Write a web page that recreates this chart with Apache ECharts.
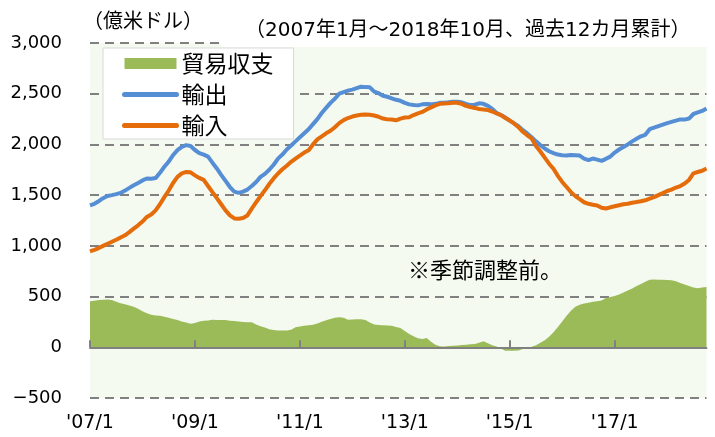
<!DOCTYPE html>
<html>
<head>
<meta charset="utf-8">
<script src="https://cdn.jsdelivr.net/npm/echarts@6/dist/echarts.min.js"></script>
<style>
html,body{margin:0;padding:0;background:#fff;}
#main{width:715px;height:437px;}
</style>
</head>
<body>
<div id="main"></div>
<script>
// Month categories: 2007/1 .. 2018/10
const startYear = 2007, startMonth = 1, monthCount = 142;
const categories = [];
for (let i = 0; i < monthCount; i++) {
  const m = (startMonth - 1 + i) % 12 + 1;
  const y = startYear + Math.floor((startMonth - 1 + i) / 12);
  categories.push("'" + String(y % 100).padStart(2, '0') + '/' + m);
}

const yTicks = [-500, 0, 500, 1000, 1500, 2000, 2500, 3000];

// 輸出 (exports), 12-month rolling sum, 100M USD
const exportsData = [
1400,1415,1440,1470,1492,1500,1510,1522,1545,1572,1598,1620,
1645,1664,1662,1668,1720,1780,1830,1895,1943,1975,1993,1985,
1945,1915,1900,1880,1820,1763,1700,1640,1580,1535,1522,1535,
1555,1590,1630,1680,1710,1750,1800,1860,1900,1950,1990,2030,
2070,2110,2150,2200,2250,2310,2360,2410,2450,2500,2515,2530,
2540,2555,2569,2565,2563,2520,2505,2480,2470,2455,2440,2430,
2410,2395,2388,2385,2395,2398,2395,2400,2410,2411,2415,2420,
2421,2415,2400,2388,2392,2405,2400,2380,2350,2310,2289,2265,
2235,2207,2180,2140,2108,2070,2030,1993,1960,1933,1915,1900,
1894,1890,1895,1894,1890,1860,1845,1861,1850,1838,1858,1880,
1920,1950,1975,2000,2030,2055,2080,2095,2150,2165,2180,2195,
2210,2223,2235,2247,2245,2255,2300,2315,2330,2355
];

// 輸入 (imports)
const importsData = [
945,960,978,1000,1021,1040,1060,1082,1104,1135,1170,1202,
1240,1285,1310,1350,1410,1480,1545,1620,1680,1715,1729,1725,
1695,1670,1650,1590,1530,1470,1410,1350,1300,1270,1268,1275,
1300,1367,1430,1490,1548,1610,1665,1713,1755,1790,1828,1860,
1890,1920,1943,2000,2050,2080,2110,2135,2170,2210,2240,2260,
2275,2285,2292,2296,2292,2285,2273,2255,2247,2245,2238,2255,
2266,2268,2290,2306,2320,2345,2365,2385,2400,2404,2405,2410,
2411,2400,2380,2368,2360,2350,2345,2338,2325,2305,2289,2260,
2235,2207,2170,2125,2090,2060,1985,1930,1870,1810,1760,1690,
1630,1580,1530,1490,1460,1430,1415,1405,1398,1375,1368,1380,
1390,1400,1410,1415,1425,1432,1440,1449,1465,1480,1500,1520,
1541,1555,1575,1590,1614,1650,1715,1728,1740,1763
];

// 貿易収支 (trade balance)
const balanceData = [
455,460,465,468,472,465,450,435,425,412,400,380,
356,335,320,313,310,300,290,280,268,255,245,232,
240,255,262,265,272,268,270,270,262,258,254,250,
248,246,225,208,195,178,170,166,165,166,172,198,
205,212,218,222,235,252,266,278,290,297,290,272,
275,277,276,270,245,225,220,218,215,212,200,190,
160,132,110,90,82,92,55,26,10,7,12,16,
18,22,26,30,33,45,59,40,20,7,-15,-33,
-35,-33,-32,-18,-8,5,20,45,70,105,148,200,
255,310,360,400,420,432,438,448,455,462,486,495,
505,520,540,560,580,605,625,645,665,668,666,665,
663,660,650,635,620,605,590,583,590,594
];

const FONT = '"DejaVu Sans", "Noto Sans CJK JP", sans-serif';
const CJK = '"Noto Sans CJK JP", sans-serif';
const C_BAL = '#9BBB59', C_EXP = '#558ED5', C_IMP = '#E46C0A';

const chart = echarts.init(document.getElementById('main'), null, {renderer: 'canvas'});
chart.setOption({
  animation: false,
  backgroundColor: '#ffffff',
  textStyle: {fontFamily: FONT},
  title: [
    {text: '（億米ドル）', left: 78, top: 5,
     textStyle: {fontSize: 20, fontWeight: 'normal', color: '#000', fontFamily: CJK}},
    {text: '（2007年1月～2018年10月、過去12カ月累計）', left: 240, top: 16,
     textStyle: {fontSize: 20, fontWeight: 'normal', color: '#000', fontFamily: FONT}}
  ],
  grid: {left: 90, right: 8.5, top: 43, bottom: 39, show: true,
         outerBoundsMode: 'none', containLabel: false,
         backgroundColor: '#F5FAF0', borderWidth: 0},
  legend: {
    orient: 'vertical', left: 103, top: 48,
    backgroundColor: '#ffffff', borderColor: '#D9D9D9', borderWidth: 1,
    padding: [4, 20, 2, 19],
    itemWidth: 52, itemHeight: 11, itemGap: 8,
    textStyle: {fontSize: 23, color: '#000', fontFamily: CJK, lineHeight: 22},
    data: [
      {name: '貿易収支', icon: 'rect', itemStyle: {color: C_BAL}},
      {name: '輸出', lineStyle: {width: 5, color: C_EXP, cap: 'round'}, itemStyle: {opacity: 0}},
      {name: '輸入', lineStyle: {width: 5, color: C_IMP, cap: 'round'}, itemStyle: {opacity: 0}}
    ]
  },
  xAxis: [
    { // tick labels along the bottom of the plot
      type: 'category', data: categories, boundaryGap: false, position: 'bottom',
      axisLine: {show: false, onZero: false}, axisTick: {show: false},
      axisLabel: {interval: 23, margin: 16, fontSize: 19, color: '#000', fontFamily: FONT},
      splitLine: {show: false}
    },
    { // zero line with small upward ticks, drawn over the area
      type: 'category', data: categories, boundaryGap: false, position: 'top', z: 5,
      axisLine: {show: true, onZero: true, lineStyle: {color: '#808080', width: 2}},
      axisTick: {show: true, inside: false, length: 7, interval: 23,
                 lineStyle: {color: '#808080', width: 2}},
      axisLabel: {show: false},
      splitLine: {show: false}
    }
  ],
  yAxis: {
    type: 'value', min: yTicks[0], max: yTicks[yTicks.length - 1], interval: 500,
    axisLine: {show: false}, axisTick: {show: false},
    axisLabel: {margin: 28, fontSize: 18, color: '#000', fontFamily: FONT,
      formatter: v => v < 0 ? '−' + Math.abs(v) : v.toLocaleString('en-US')},
    splitLine: {show: true, lineStyle: {color: '#808080', width: 2, type: [9, 6]}}
  },
  graphic: [
    {type: 'rect', shape: {x: 221, y: 36, width: 494, height: 11}, style: {fill: '#ffffff'}, z: 1, silent: true},
    {type: 'text', left: 408, top: 259, z: 10,
     style: {text: '※季節調整前。', fontSize: 22, fill: '#000', fontFamily: CJK}}
  ],
  series: [
    {name: '貿易収支', type: 'line', data: balanceData, symbol: 'none', xAxisIndex: 0,
     lineStyle: {width: 0, color: C_BAL}, itemStyle: {color: C_BAL},
     areaStyle: {color: C_BAL, opacity: 1}, z: 2},
    {name: '輸出', type: 'line', data: exportsData, symbol: 'none', xAxisIndex: 0,
     lineStyle: {width: 4, color: C_EXP}, itemStyle: {color: C_EXP}, z: 3},
    {name: '輸入', type: 'line', data: importsData, symbol: 'none', xAxisIndex: 0,
     lineStyle: {width: 4, color: C_IMP}, itemStyle: {color: C_IMP}, z: 4}
  ]
});
</script>
</body>
</html>
